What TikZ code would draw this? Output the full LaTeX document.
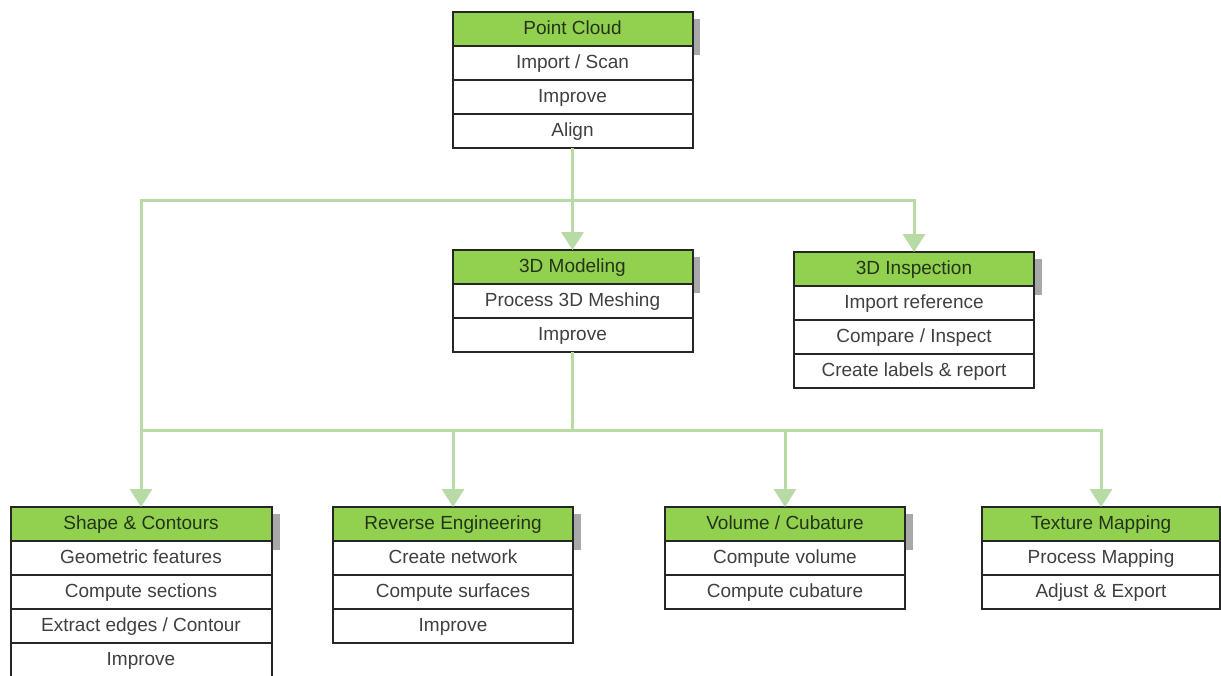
\documentclass[tikz,border=0pt]{standalone}
\usepackage{fontspec}
\setmainfont{Liberation Sans}
\usetikzlibrary{arrows.meta}
\definecolor{hdrgreen}{RGB}{146,208,80}
\definecolor{linegreen}{RGB}{184,218,164}
\definecolor{txtgray}{RGB}{64,64,64}
\definecolor{hdrtxt}{RGB}{36,52,24}
\definecolor{boxline}{RGB}{38,38,38}
\definecolor{shadowgray}{RGB}{168,168,168}
\begin{document}
\begin{tikzpicture}[x=1pt,y=-1pt,
  cell/.style={draw=boxline,line width=2pt,minimum height=34pt,inner sep=0pt,outer sep=0pt,
    text height=13.5pt,text depth=3.5pt,anchor=north,
    font=\fontsize{19}{22}\selectfont,text=txtgray},
  hdr/.style={cell,fill=hdrgreen,text=hdrtxt},
  row/.style={cell,fill=white},
  shadowbar/.style={fill=shadowgray},
  conn/.style={draw=linegreen,line width=3pt},
  arr/.style={conn,-{Triangle[width=22pt,length=18pt]}}]
\useasboundingbox[fill=white] (0,0) rectangle (1221,675);
\clip (0,0) rectangle (1221,675);

% shadows behind headers
\fill[shadowbar] (693,19) rectangle (700,55);
\fill[shadowbar] (693,257) rectangle (700,293);
\fill[shadowbar] (1035,259) rectangle (1042,295);
\fill[shadowbar] (273,514) rectangle (280,550);
\fill[shadowbar] (574,514) rectangle (581,550);
\fill[shadowbar] (906,514) rectangle (913,550);

% Point Cloud
\node[hdr,minimum width=240pt] (pc) at (572.5,12) {Point Cloud};
\node[row,minimum width=240pt] (pc1) at (pc.south) {Import / Scan};
\node[row,minimum width=240pt] (pc2) at (pc1.south) {Improve};
\node[row,minimum width=240pt] (pc3) at (pc2.south) {Align};

% 3D Modeling
\node[hdr,minimum width=240pt] (mod) at (572.5,250) {3D Modeling};
\node[row,minimum width=240pt] (mod1) at (mod.south) {Process 3D Meshing};
\node[row,minimum width=240pt] (mod2) at (mod1.south) {Improve};

% 3D Inspection
\node[hdr,minimum width=240pt] (ins) at (914,252) {3D Inspection};
\node[row,minimum width=240pt] (ins1) at (ins.south) {Import reference};
\node[row,minimum width=240pt] (ins2) at (ins1.south) {Compare / Inspect};
\node[row,minimum width=240pt] (ins3) at (ins2.south) {Create labels \& report};

% Shape & Contours
\node[hdr,minimum width=261pt] (shp) at (141,507) {Shape \& Contours};
\node[row,minimum width=261pt] (shp1) at (shp.south) {Geometric features};
\node[row,minimum width=261pt] (shp2) at (shp1.south) {Compute sections};
\node[row,minimum width=261pt] (shp3) at (shp2.south) {Extract edges / Contour};
\node[row,minimum width=261pt] (shp4) at (shp3.south) {Improve};

% Reverse Engineering
\node[hdr,minimum width=240pt] (rev) at (453,507) {Reverse Engineering};
\node[row,minimum width=240pt] (rev1) at (rev.south) {Create network};
\node[row,minimum width=240pt] (rev2) at (rev1.south) {Compute surfaces};
\node[row,minimum width=240pt] (rev3) at (rev2.south) {Improve};

% Volume / Cubature
\node[hdr,minimum width=240pt] (vol) at (785,507) {Volume / Cubature};
\node[row,minimum width=240pt] (vol1) at (vol.south) {Compute volume};
\node[row,minimum width=240pt] (vol2) at (vol1.south) {Compute cubature};

% Texture Mapping
\node[hdr,minimum width=238pt] (tex) at (1101,507) {Texture Mapping};
\node[row,minimum width=238pt] (tex1) at (tex.south) {Process Mapping};
\node[row,minimum width=238pt] (tex2) at (tex1.south) {Adjust \& Export};

% connectors
\coordinate (j1) at (572.5,200);
\coordinate (j2) at (572.5,430);
\draw[arr] (pc3.south) -- (mod.north);
\draw[arr] (j1) -| (shp.north);
\draw[arr] (j1) -| (ins.north);
\draw[conn] (mod2.south) -- (j2);
\draw[conn] (j2) -- (j2 -| shp.north);
\draw[arr] (j2) -| (rev.north);
\draw[arr] (j2) -| (vol.north);
\draw[arr] (j2) -| (tex.north);
\end{tikzpicture}
\end{document}
